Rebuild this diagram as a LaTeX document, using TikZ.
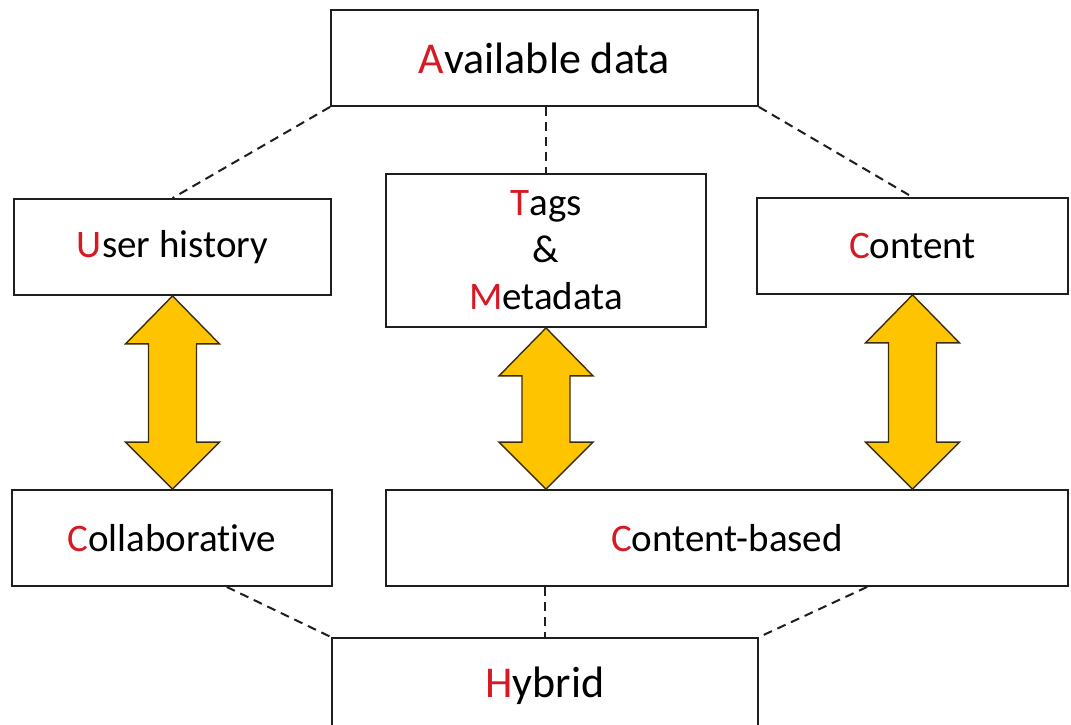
\documentclass[tikz,border=0pt]{standalone}
\usepackage{fontspec}
\setmainfont{Carlito}[Ligatures=NoCommon]
\usetikzlibrary{calc}
\definecolor{myred}{RGB}{215,25,35}
\definecolor{myline}{RGB}{30,30,30}
\definecolor{myyellow}{RGB}{255,196,0}
\definecolor{myoutline}{RGB}{60,45,10}
\newcommand\firstl[1]{\textcolor{myred}{#1}}
\newcommand\dblarrow[2]{%
  \draw[yarrow] let \p1=(#1), \p2=(#2) in
    (\x1,\y1) -- (\x1+47pt,\y1-48pt) -- (\x1+24pt,\y1-48pt) --
    (\x1+24pt,\y2+47pt) -- (\x1+47pt,\y2+47pt) -- (\x1,\y2) --
    (\x1-47pt,\y2+47pt) -- (\x1-24pt,\y2+47pt) -- (\x1-24pt,\y1-48pt) --
    (\x1-47pt,\y1-48pt) -- cycle;}
\tikzset{
  box/.style={draw=myline, line width=1.8pt, fill=white, inner sep=0pt,
    align=center, font=\fontsize{39}{47}\selectfont},
  bigbox/.style={box, font=\fontsize{44}{52}\selectfont},
  dashline/.style={draw=myline, line width=2pt, dash pattern=on 9pt off 6pt},
  yarrow/.style={fill=myyellow, draw=myoutline, line width=1.4pt, line join=miter}
}
\begin{document}
\begin{tikzpicture}[x=1pt,y=-1pt]
\useasboundingbox (0,0) rectangle (1071,724);
\clip (0,0) rectangle (1071,724);
\fill[white] (0,0) rectangle (1071,724);
% nodes
\node[bigbox, minimum width=427pt, minimum height=96pt] (avail) at (544.5,58) {\firstl{A}vailable data};
\node[box, minimum width=317pt, minimum height=96pt] (uh) at (172.5,247) {\firstl{U}ser history};
\node[box, minimum width=320pt, minimum height=153pt] (tags) at (546,250.5) {\firstl{T}ags\\\&\\\firstl{M}etadata};
\node[box, minimum width=311pt, minimum height=96pt] (content) at (912.5,246) {\firstl{C}ontent};
\node[box, minimum width=320pt, minimum height=96pt] (collab) at (172,538) {\firstl{C}ollaborative};
\node[box, minimum width=682pt, minimum height=96pt] (cbased) at (727,538) {\firstl{C}ontent-based};
\node[bigbox, minimum width=426pt, minimum height=96pt] (hybrid) at (545,686) {\firstl{H}ybrid};
% dashed connectors
\draw[dashline] (avail.south west) -- (uh.north);
\draw[dashline] (avail.south -| tags.north) -- (tags.north);
\draw[dashline] (avail.south east) -- (content.north);
\draw[dashline] ($(collab.south west)!0.67!(collab.south east)$) -- (hybrid.north west);
\draw[dashline] (cbased.south -| hybrid.north) -- (hybrid.north);
\draw[dashline] ($(cbased.south west)!0.705!(cbased.south east)$) -- (hybrid.north east);
% double arrows
\dblarrow{uh.south}{uh.south |- collab.north}
\dblarrow{tags.south}{tags.south |- cbased.north}
\dblarrow{content.south}{content.south |- cbased.north}
\end{tikzpicture}
\end{document}
